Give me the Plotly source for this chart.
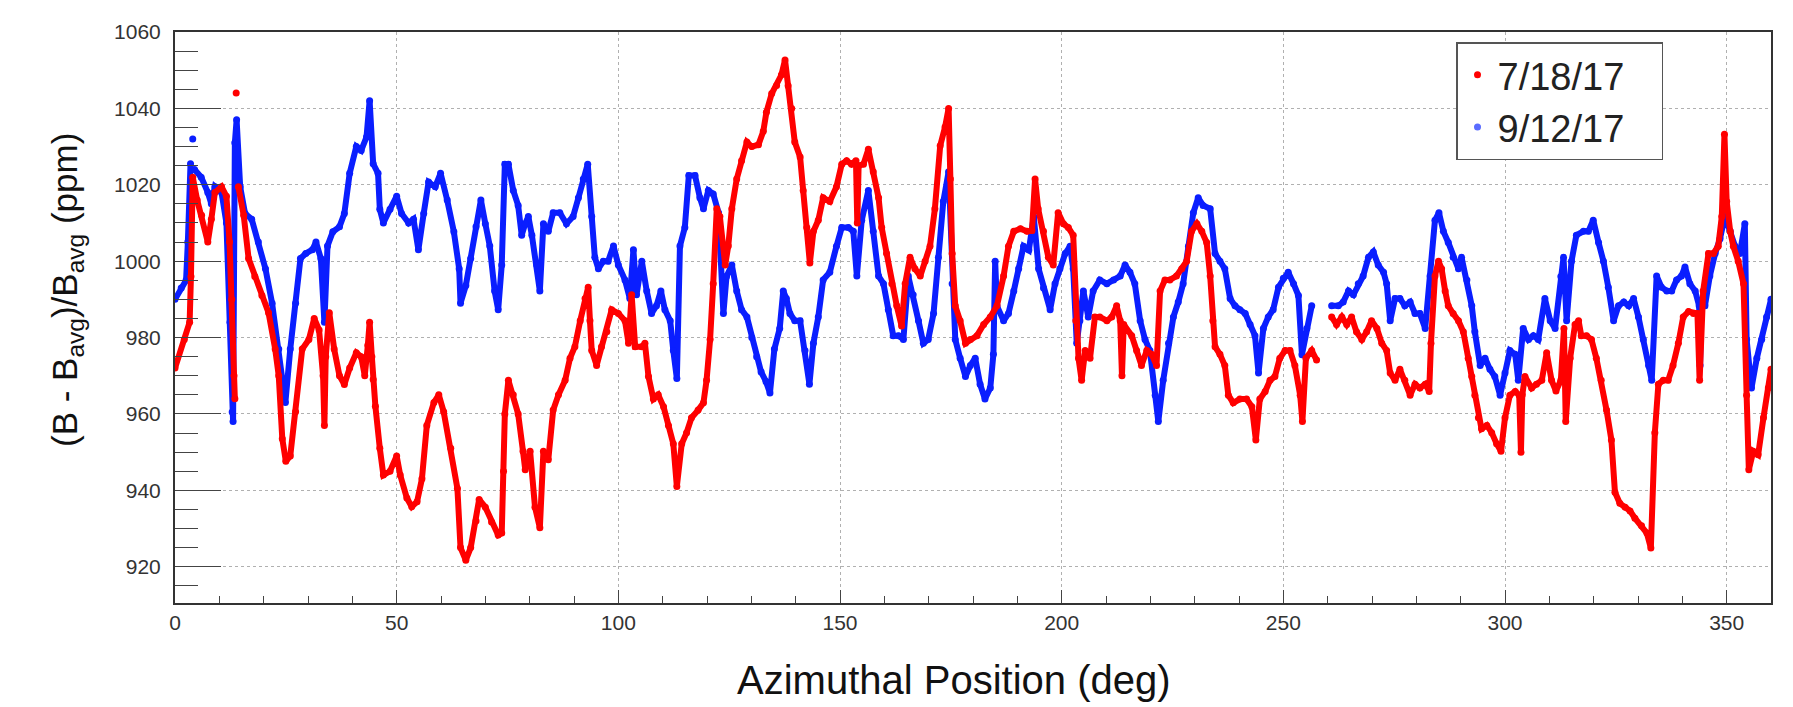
import plotly.graph_objects as go

# ---------------- data ----------------
series_names = ["7/18/17", "9/12/17"]

red_deg = [0, 2.1, 3.3, 3.6, 4.0, 5.0, 6.0, 7.4, 8.2, 9.0, 10.5, 11.6, 12.3, 12.8, 13.3, 13.5, None,
           13.8, None,
           14.3, 15.5, 16.6, 18.0, 19.6, 21.1, 22.6, 23.4, 24.2, 25.0, 26.0, 27.2, 28.7, 30.2, 31.4, 32.5,
           33.4, 33.7, 34.0, 34.8, 35.9, 37.1, 38.2, 39.4, 40.9, 42.0, 42.8, 43.5, 43.9, 44.4, 44.7, 45.2,
           46.2, 47.0, 48.5, 50.0, 50.8, 52.3, 53.4, 54.6, 55.7, 56.8, 58.4, 59.5, 60.6, 62.2, 63.7, 64.4,
           65.6, 66.7, 67.9, 68.6, 70.0, 71.4, 72.9, 73.7, 74.1, 74.4, 75.2, 76.3, 77.4, 78.5, 79.0, 80.1,
           81.2, 82.3, 83.1, 84.2, 85.3, 86.5, 88.0, 89.1, 90.2, 91.4, 92.5, 93.2, 93.6, 94.0, 95.1, 96.2,
           97.4, 98.5, 100.0, 101.5, 102.3, 103.0, 103.8, 105.3, 106.0, 106.8, 107.9, 109.0, 110.2, 111.3,
           112.4, 113.2, 114.3, 115.4, 116.5, 118.0, 119.2, 119.9, 120.7, 121.4, 122.2, 122.9, 124.1, 124.8,
           125.6, 126.7, 127.8, 129.0, 130.1, 131.6, 132.7, 133.4, 134.6, 135.7, 136.8, 137.6, 138.3, 139.1,
           139.8, 141.0, 141.7, 142.5, 143.2, 144.0, 145.1, 146.2, 147.7, 149.2, 150.4, 151.5, 152.6, 153.6,
           153.9, 154.2, 155.3, 156.4, 157.5, 158.7, 159.4, 160.5, 161.7, 162.8, 163.9, 164.7, 165.8, 166.9,
           168.1, 169.2, 170.3, 171.4, 172.6, 173.7, 174.5, 174.9, 175.3, 176.0, 177.1, 178.3, 179.4, 180.9,
           182.4, 183.9, 185.4, 186.9, 188.0, 189.2, 190.7, 192.2, 193.3, 194.0, 194.7, 195.9, 197.0, 198.1,
           199.2, 200.4, 201.5, 202.6, 203.2, 203.8, 204.5, 205.3, 206.4, 207.5, 208.6, 210.2, 211.3, 212.4,
           213.2, 213.6, 214.0, 215.8, 216.9, 218.0, 219.2, 220.3, 221.4, 222.2, 223.3, 224.4, 225.9, 227.1,
           228.2, 229.3, 230.5, 231.6, 232.7, 233.5, 234.1, 234.6, 235.7, 236.8, 237.6, 238.7, 240.2, 241.7,
           242.9, 243.8, 244.7, 245.9, 247.0, 248.1, 249.2, 250.4, 251.5, 252.6, 253.8, 254.3, 255.1, 256.4,
           257.5, None,
           260.9, 262.0, 263.2, 264.3, 265.4, 266.5, 267.7, 268.8, 269.9, 271.1, 272.2, 273.3, 274.1, 275.2,
           276.3, 277.4, 278.6, 279.7, 280.8, 282.0, 282.9, 283.3, 284.2, 285.0, 285.7, 286.5, 287.2, 288.3,
           289.5, 290.6, 291.7, 292.5, 293.2, 294.0, 294.7, 295.9, 297.0, 298.1, 299.1, 300.0, 301.1, 302.3,
           303.2, 303.6, 303.9, 304.5, 306.0, 307.1, 308.3, 309.4, 310.5, 311.5, 312.6, 313.3, 313.7, 314.7,
           315.8, 316.6, 317.2, 318.4, 319.5, 320.6, 321.7, 322.9, 324.0, 324.8, 325.9, 327.1, 328.2, 329.3,
           330.8, 332.0, 332.9, 333.8, 334.6, 335.7, 336.8, 337.9, 339.1, 340.2, 341.4, 342.5, 343.4, 343.9,
           344.3, 344.7, 345.9, 347.0, 348.1, 348.9, 349.5, 350.0, 350.8, 351.5, 352.6, 353.8, 354.5, 355.0,
           356.0, 357.1, 358.3, 359.4, 360.0]

red_val = [972, 979.5, 984, 996, 1022, 1016, 1012, 1005, 1011, 1018, 1019.5, 1017, 1005, 990, 970, 964, None,
           1044, None,
           1019.5, 1012, 1000.7, 996, 991, 986.5, 977, 970, 953.5, 947.6, 949, 960.6, 977, 979.5, 985, 982,
           970, 957, 975, 986.5, 977, 970, 967.7, 972, 976, 975, 970, 978, 984, 975, 969, 962,
           951, 944, 945, 949, 944, 938, 935.7, 937, 943, 957, 963, 965, 960.6, 951, 940.5, 925,
           921.7, 925, 932, 937.6, 935.6, 931.7, 928.3, 928.8, 945, 960, 968.8, 965, 960, 950.2, 945.4, 950.2,
           935.6, 930.2, 950.2, 948, 961, 965, 968.8, 974.6, 977.6, 984.4, 990.2, 993.2, 984.4, 976.6, 972.7, 977.6,
           981.5, 987.3, 986.3, 984.4, 978.5, 991.2, 977.6, 977.6, 978.5, 969.8, 963.9, 965, 961.9, 957,
           952.2, 941, 952.2, 955.1, 959, 961, 962.9, 968.8, 979.5, 994.1, 1013.7, 1011.7, 999, 1004,
           1013.7, 1021.5, 1026.3, 1031.2, 1030, 1030.5, 1034, 1039, 1043.9, 1046, 1048.8, 1052.7, 1045.9, 1040,
           1031.2, 1027.3, 1018.5, 1008.8, 999.5, 1007.8, 1010.7, 1016.6, 1015.6, 1019.5, 1025.4, 1026.3, 1025.4, 1026.3,
           1010, 1025, 1025.4, 1029.3, 1023.4, 1016.6, 1008.8, 1002, 994.1, 988.3, 983, 994.1, 1001, 998,
           996.1, 1000, 1003.9, 1013.7, 1030.2, 1035.1, 1040, 1021.5, 1002, 988.3, 984.4, 978.5, 979.5, 980.5,
           983.4, 985.4, 988.3, 996.1, 1003.9, 1007.8, 1008.5, 1007.8, 1008, 1021.5, 1013.7, 1007.8, 1001, 999,
           1012.7, 1009.8, 1008.8, 1006.8, 984.4, 974.6, 968.8, 976.6, 974.6, 985.4, 985.4, 984.4, 985.4, 988.3,
           984.4, 970, 983.4, 980.5, 976.6, 972.7, 976.6, 975.6, 972.7, 992.2, 995.1, 995.1, 996.1, 998,
           1000, 1007.8, 1009.8, 1007.8, 1004.9, 996.1, 984.4, 977.6, 975.6, 972.7, 964.9, 962.9, 963.9, 963.9,
           961.9, 953.2, 963.9, 965.9, 968.8, 969.8, 974.6, 976.6, 976.6, 972.7, 964.9, 958, 974.6, 976.6,
           974.1, None,
           985.4, 983.4, 985.4, 983.4, 985.4, 981.5, 979.5, 981.5, 984.4, 982.4, 978.5, 976.6, 970.7, 968.8,
           971.7, 968.8, 964.9, 967.8, 966.8, 967.8, 965.9, 978.5, 996.1, 1000, 998, 992.2, 988.3, 986.3,
           984.4, 981.5, 974.6, 969.8, 964.9, 959, 956.1, 957, 955.1, 952.2, 950.2, 959, 964.9, 965.9,
           964.9, 950, 965, 969.8, 966.8, 967.8, 968.8, 976, 968.8, 966, 968.8, 982.4, 958, 974.6,
           983.4, 984.4, 980.5, 980.5, 979.5, 974.6, 968.8, 961, 953.2, 939.5, 936.6, 935.6, 934.6, 932.7,
           930.7, 928.8, 924.9, 955.1, 967.8, 968.8, 968.8, 972.7, 978.5, 985.4, 986.8, 986.3, 986.3, 968.8,
           986, 992.2, 1002, 1002, 1003.9, 1011.7, 1033.2, 1015.6, 1007.8, 1003.9, 1000, 994.1, 964.9, 945.4,
           950.2, 949.3, 959, 966.8, 971.7]

blue_deg = [0, 1.4, 2.5, 2.9, 3.5, None,
            4.0, None,
            4.4, 5.9, 7.4, 8.2, 9.0, 10.5, 11.6, 12.4, 12.9, 13.1, 13.5, 13.9, 14.7, 15.8, 17.3, 18.8, 20.4,
            21.9, 23.4, 24.5, 24.9, 26.0, 27.2, 28.3, 29.5, 31.0, 31.8, 32.9, 33.7, 34.4, 35.6, 37.1, 38.2,
            39.4, 40.9, 42.0, 43.2, 43.9, 44.7, 45.8, 46.2, 47.0, 48.5, 50.0, 51.1, 52.7, 53.8, 54.9, 56.1,
            57.2, 58.7, 59.9, 61.4, 62.9, 64.1, 64.4, 65.6, 66.7, 67.9, 69.0, 70.0, 71.0, 72.1, 72.9, 73.7,
            74.4, 75.2, 76.3, 77.4, 78.2, 79.0, 79.7, 80.5, 81.6, 82.3, 83.1, 84.2, 85.3, 86.8, 88.3, 89.8,
            91.0, 92.1, 93.1, 94.0, 94.7, 95.5, 96.6, 97.7, 98.9, 100.0, 101.5, 102.6, 103.4, 104.1, 105.3,
            106.4, 107.5, 108.6, 109.6, 110.5, 111.7, 112.4, 113.2, 113.9, 115.0, 115.9, 117.3, 118.4, 119.2,
            120.3, 121.4, 122.6, 123.7, 124.4, 125.6, 126.7, 127.8, 129.0, 130.1, 131.2, 132.2, 133.3, 134.2,
            135.2, 136.4, 137.2, 137.9, 138.7, 139.8, 141.0, 142.1, 143.1, 144.0, 145.1, 146.2, 147.7, 149.2,
            150.4, 151.9, 153.0, 153.8, 154.9, 156.4, 157.5, 158.7, 159.8, 160.9, 162.0, 163.2, 164.3, 165.4,
            166.5, 167.7, 168.8, 169.9, 171.1, 172.2, 173.3, 174.5, 175.3, 176.0, 177.1, 178.3, 179.4, 180.5,
            181.6, 182.7, 183.9, 184.6, 185.0, 185.4, 186.9, 188.0, 189.2, 190.3, 191.4, 192.6, 193.7, 194.8,
            195.9, 197.4, 198.5, 199.6, 200.8, 201.9, 202.6, 203.4, 204.1, 204.9, 206.0, 207.1, 208.6, 210.2,
            211.7, 213.2, 214.3, 215.4, 216.5, 217.7, 218.8, 219.9, 221.1, 221.8, 222.9, 224.1, 225.2, 226.3,
            227.4, 228.6, 229.7, 230.8, 231.9, 233.5, 234.6, 235.7, 236.8, 238.0, 239.1, 240.2, 241.4, 242.5,
            243.6, 244.4, 245.5, 246.6, 247.7, 248.9, 250.0, 251.1, 252.3, 253.4, 254.2, 255.3, 256.4, None,
            260.9, 262.4, 263.5, 264.7, 265.8, 266.9, 268.0, 269.2, 270.3, 271.4, 272.6, 273.3, 274.1, 275.2,
            276.3, 277.4, 278.6, 279.7, 280.8, 282.0, 283.1, 284.2, 285.1, 286.1, 287.2, 288.3, 289.5, 290.2,
            291.4, 292.5, 293.2, 294.4, 295.5, 296.6, 297.7, 298.9, 300.0, 301.1, 302.3, 303.0, 304.1, 305.3,
            306.4, 307.5, 309.0, 310.2, 311.3, 312.6, 313.2, 313.9, 315.0, 316.1, 317.7, 318.8, 319.9, 321.1,
            322.2, 323.3, 324.5, 325.6, 326.8, 327.9, 329.0, 330.1, 331.2, 332.4, 333.1, 334.2, 335.3, 336.5,
            337.6, 338.7, 339.8, 340.6, 341.7, 342.9, 343.8, 344.0, 344.3, 345.1, 346.2, 347.4, 348.5, 349.6,
            350.8, 351.9, 353.0, 354.1, 354.5, 355.6, 356.8, 357.9, 359.0, 360.0]

blue_val = [990, 993, 995, 1005, 1025.5, None,
            1032, None,
            1024, 1022, 1018, 1015, 1019.5, 1018, 1010, 984, 960.5, 958, 1031, 1037, 1019.5, 1012.5, 1011, 1005, 998,
            989, 977, 966.5, 963, 977, 989, 1000.7, 1002, 1003, 1005, 1000.7, 984, 1004, 1007.7, 1009, 1012.5,
            1023, 1030, 1029, 1032.5, 1042, 1025.5, 1023, 1013.6, 1010, 1013.6, 1017, 1012.5, 1010, 1011, 1003, 1012.5,
            1020.7, 1019.5, 1023, 1016, 1007.7, 998, 989, 993.6, 1000.7, 1009, 1016, 1009.8, 1004, 992.2, 987.3, 999,
            1025.4, 1025.4, 1018.5, 1014.6, 1006.8, 1009.8, 1011.7, 1006.8, 999, 992.2, 1009.8, 1007.8, 1012.7, 1012.7, 1009.8, 1011.7,
            1016.6, 1021.5, 1025.4, 1011.7, 1001, 998, 1000, 1000, 1004, 999, 995.1, 990.2, 1003, 991.2, 1000,
            992.2, 986.3, 988.3, 992.2, 987.3, 984.4, 976.6, 969.3, 1004, 1008.8, 1022.4, 1022.4, 1016.6, 1013.7,
            1018.5, 1017.6, 1012.7, 986.3, 996, 999, 992.2, 987.3, 985.4, 980, 975, 971, 968.5, 965.5,
            977, 982.4, 992.2, 990.2, 986.3, 984.4, 984.4, 976.6, 967.8, 978.5, 985.4, 995.1, 997.1, 1003.9,
            1008.8, 1008.8, 1007.8, 996.1, 1010.7, 1018.5, 1007.8, 996.1, 994.1, 987.3, 980.5, 980.5, 979.5, 996.1,
            991.2, 984.4, 978.5, 979.5, 986.3, 1001, 1015.6, 1023.4, 994.1, 979.5, 974.6, 969.8, 972.7, 974.6,
            967.8, 963.9, 966.8, 975.6, 1000, 988.3, 984.4, 986.3, 992.2, 998, 1003.9, 1002.9, 1011.7, 998,
            993, 987.3, 994.1, 998, 1002, 1003.9, 998, 978.5, 984.4, 992.2, 985.4, 992.2, 995.1, 994.1,
            995.1, 996.1, 999, 997.1, 994.1, 984.4, 979.5, 976.6, 964.9, 958, 968.8, 978.5, 985.4, 989.3,
            994.1, 1003.9, 1012.7, 1016.6, 1014.6, 1013.7, 1002, 1000, 998, 990.2, 988.3, 987.3, 986.3, 983.4,
            980.5, 970.7, 982.4, 985.4, 987.3, 993.2, 995.5, 997.1, 994.1, 991, 975.5, 982.4, 988.3, None,
            988.3, 988.3, 989.3, 992.2, 991.2, 994.1, 996.1, 1001, 1002.4, 999, 997.1, 994.1, 984.4, 990.2,
            990.2, 988.3, 989.3, 986.3, 986.3, 982.4, 996.1, 1010.7, 1012.7, 1007.8, 1004.9, 1001, 998, 1001,
            995.1, 988.3, 981.5, 972.7, 974.6, 971.7, 969.8, 964.9, 970.7, 976.6, 975.6, 968.8, 982.4, 979.5,
            980.5, 979.5, 990.2, 984.4, 982.4, 996, 1001, 984.4, 1000, 1006.8, 1007.8, 1007.8, 1010.7, 1004.9,
            1000, 993.2, 984.4, 988.3, 989.3, 988.3, 990.2, 985.4, 979.5, 972.7, 968.8, 996.1, 993.2, 992.2,
            992.2, 995.1, 996.1, 998.5, 994.1, 992.2, 988.3, 972.7, 988, 988.3, 996.1, 1002, 1005.9, 1011.7,
            1007.8, 1003.9, 1002, 1009.8, 979.5, 966.8, 974.6, 979.5, 985.4, 990]

x_ticks = [0, 50, 100, 150, 200, 250, 300, 350]
y_ticks = [920, 940, 960, 980, 1000, 1020, 1040, 1060]
x_title = "Azimuthal Position (deg)"
y_title = "(B - B<sub>avg</sub>)/B<sub>avg</sub> (ppm)"

RED = "#ff0000"
BLUE = "#0a1eff"
FONT = "Liberation Sans, Arial, Helvetica, sans-serif"
PAD = "\u00a0\u00a0\u00a0"

fig = go.Figure()

# data traces (blue underneath red)
fig.add_trace(go.Scatter(x=blue_deg, y=blue_val, mode="lines+markers", showlegend=False,
                         connectgaps=False, line=dict(color=BLUE, width=6),
                         marker=dict(color=BLUE, size=7), hoverinfo="skip"))
fig.add_trace(go.Scatter(x=red_deg, y=red_val, mode="lines+markers", showlegend=False,
                         connectgaps=False, line=dict(color=RED, width=6),
                         marker=dict(color=RED, size=7), hoverinfo="skip"))

# legend entries
fig.add_trace(go.Scatter(x=[None], y=[None], mode="markers", name=series_names[0] + PAD,
                         marker=dict(color=RED, size=7)))
fig.add_trace(go.Scatter(x=[None], y=[None], mode="markers", name=series_names[1] + PAD,
                         marker=dict(color="#5a6cff", size=7)))

W, H = 1793, 707
L, R, T, B = 167, 30, 24, 112
pw, ph = W - L - R, H - T - B

def px_x(p):
    return (p - L) / pw

def px_y(p):
    return 1 - (p - T) / ph

fig.update_layout(
    width=W, height=H,
    margin=dict(l=L, r=R, t=T, b=B),
    paper_bgcolor="white", plot_bgcolor="white",
    font=dict(family=FONT, color="#222"),
    showlegend=True,
    legend=dict(x=px_x(1448), y=px_y(34), xanchor="left", yanchor="top",
                bgcolor="white", bordercolor="#555", borderwidth=1.5,
                font=dict(size=38, color="#222", family=FONT),
                itemwidth=30, tracegroupgap=0),
    xaxis=dict(range=[0, 360], tickvals=x_ticks, ticks="inside", ticklen=13, tickwidth=1.2,
               tickcolor="#444", showline=True, mirror=True, linecolor="#333", linewidth=2,
               showgrid=True, gridcolor="#b0b0b0", griddash="dot", gridwidth=1,
               zeroline=False, tickfont=dict(size=21, color="#333", family=FONT),
               ticklabelstandoff=0,
               minor=dict(ticks="inside", ticklen=7, dtick=10, tickcolor="#444", showgrid=False)),
    yaxis=dict(range=[910.5, 1060], tickvals=y_ticks, ticks="inside", ticklen=46, tickwidth=1.2,
               tickcolor="#444", showline=True, mirror=True, linecolor="#333", linewidth=2,
               showgrid=True, gridcolor="#b0b0b0", griddash="dot", gridwidth=1,
               zeroline=False, tickfont=dict(size=21, color="#333", family=FONT),
               ticklabelstandoff=8,
               minor=dict(ticks="inside", ticklen=23, dtick=5, tickcolor="#444", showgrid=False)),
    annotations=[
        dict(text=x_title, xref="paper", yref="paper", x=px_x(946), y=px_y(672),
             xanchor="center", yanchor="middle", showarrow=False,
             font=dict(size=40, color="#111", family=FONT)),
        dict(text=y_title, xref="paper", yref="paper", x=px_x(59), y=px_y(282),
             xanchor="center", yanchor="middle", showarrow=False, textangle=-90,
             font=dict(size=35, color="#111", family=FONT)),
    ],
)

fig.write_html("out.html")
